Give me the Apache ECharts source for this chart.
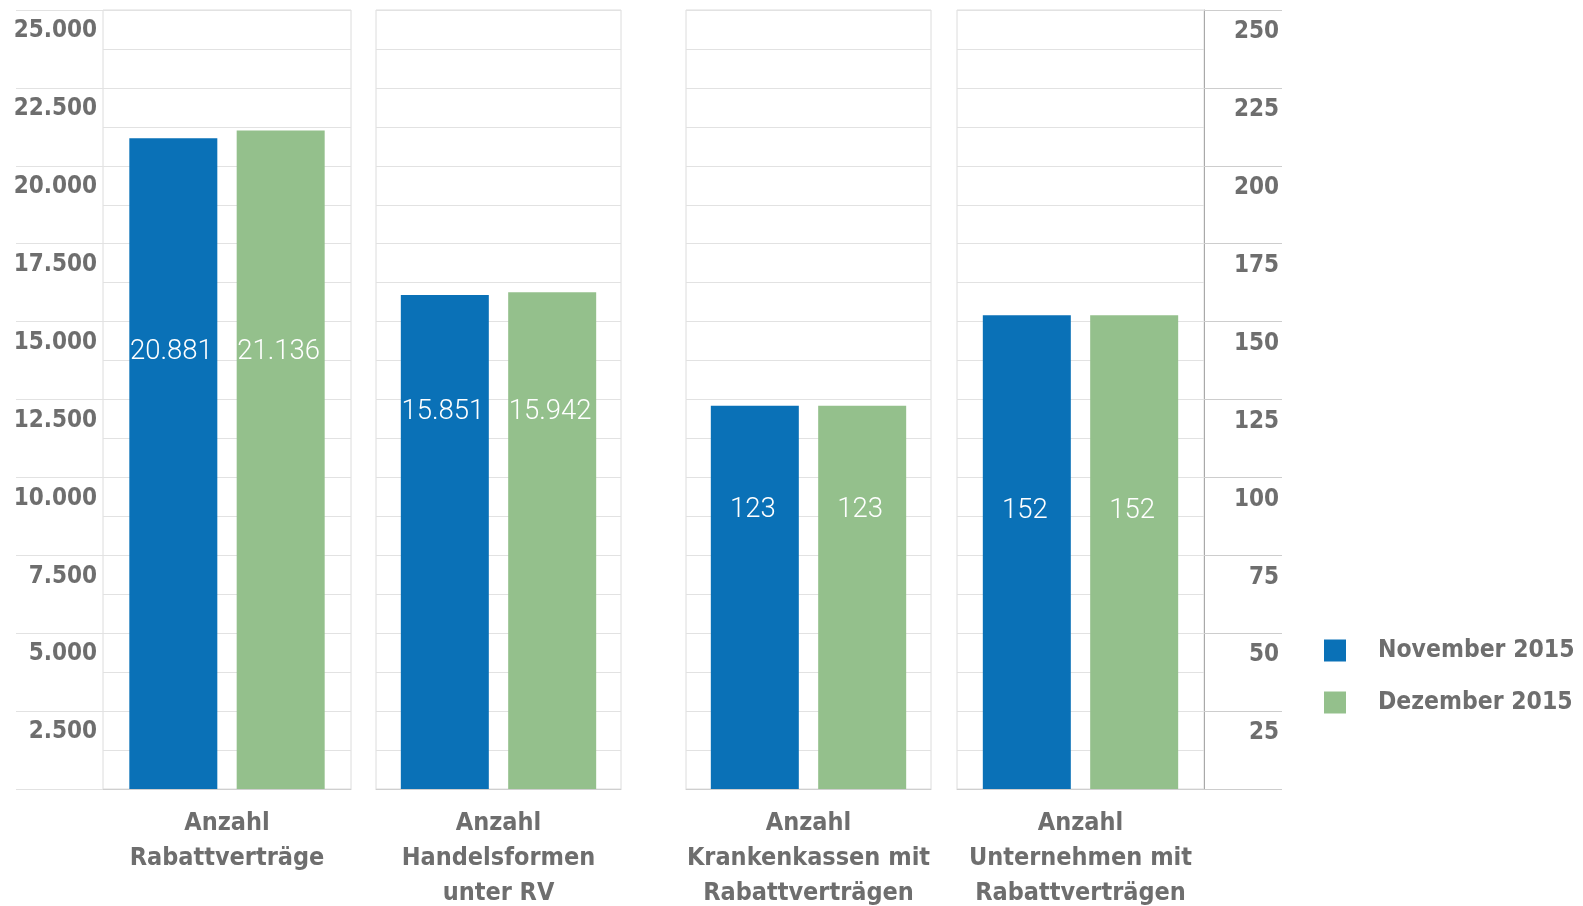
<!DOCTYPE html>
<html>
<head>
<meta charset="utf-8">
<style>
  html, body { margin: 0; padding: 0; background: #ffffff; }
  #chart { width: 1583px; height: 906px; }
</style>
<script src="https://cdn.jsdelivr.net/npm/echarts@6/dist/echarts.min.js"></script>
</head>
<body>
<div id="chart"></div>
<script>
// ---- data ----
const categories = [
  'Anzahl\nRabattverträge',
  'Anzahl\nHandelsformen\nunter RV',
  'Anzahl\nKrankenkassen mit\nRabattverträgen',
  'Anzahl\nUnternehmen mit\nRabattverträgen'
];
const seriesNames = ['November 2015', 'Dezember 2015'];
const november = [20881, 15851, 123, 152];
const dezember = [21136, 15942, 123, 152];
const leftTicks = { min: 0, max: 25000, interval: 2500 };
const rightTicks = { min: 0, max: 250, interval: 25 };

// ---- style ----
const BLUE = '#0a71b7';
const GREEN = '#94c08c';
const TEXT = '#6e6e6e';
const GRID_LINE = '#e2e2e2';
const AXIS_FONT = "'DejaVu Sans Condensed', 'DejaVu Sans', sans-serif";
const panels = [
  { left: 103, width: 248 },
  { left: 376, width: 245 },
  { left: 686, width: 245 },
  { left: 957, width: 247 }
];
const labelLift = [437, 377, 279, 278];
const TOP = 10, HEIGHT = 779;

function fmt(v) {
  return String(v).replace(/\B(?=(\d{3})+(?!\d))/g, '.');
}

const chart = echarts.init(document.getElementById('chart'), null, { renderer: 'canvas' });

const grid = panels.map(p => ({
  left: p.left, width: p.width, top: TOP, height: HEIGHT,
  show: true, borderColor: '#dcdcdc', borderWidth: 1,
  containLabel: false,
  outerBoundsMode: 'none'
}));

const xAxis = categories.map((c, i) => ({
  type: 'category',
  gridIndex: i,
  data: [c],
  axisLine: { show: true, lineStyle: { color: '#cfcfcf', width: 1 } },
  axisTick: { show: false },
  axisLabel: {
    margin: 17,
    color: TEXT,
    fontFamily: AXIS_FONT,
    fontWeight: 'bold',
    fontSize: 25,
    lineHeight: 35,
    align: 'center'
  }
}));

function yAxisFor(i) {
  const isLeft = i < 2;
  const t = isLeft ? leftTicks : rightTicks;
  const showLabels = (i === 0) || (i === 3);
  return {
    type: 'value',
    gridIndex: i,
    min: t.min, max: t.max, interval: t.interval,
    position: isLeft ? 'left' : 'right',
    axisLine: { show: i === 3, lineStyle: { color: '#a9a9a9', width: 1 } },
    axisTick: {
      show: showLabels,
      inside: false,
      length: i === 0 ? 87 : 78,
      lineStyle: { color: i === 0 ? GRID_LINE : '#cdcdcd', width: 1 }
    },
    minorTick: { show: false, splitNumber: 2 },
    splitLine: { show: true, lineStyle: { color: GRID_LINE, width: 1 } },
    minorSplitLine: { show: true, lineStyle: { color: GRID_LINE, width: 1 } },
    axisLabel: {
      show: showLabels,
      color: TEXT,
      fontFamily: AXIS_FONT,
      fontWeight: 'bold',
      fontSize: 24,
      lineHeight: 24,
      verticalAlign: 'top',
      align: 'right',
      padding: i === 0 ? [9, 0, 0, 0] : [10, 0, 0, 0],
      margin: i === 0 ? 6 : 75,
      formatter: v => (v === 0 ? '' : fmt(v))
    }
  };
}
const yAxis = panels.map((p, i) => yAxisFor(i));

const series = [];
categories.forEach((c, i) => {
  [november, dezember].forEach((arr, k) => {
    series.push({
      type: 'bar',
      name: seriesNames[k],
      xAxisIndex: i,
      yAxisIndex: i,
      data: [arr[i]],
      barWidth: 88,
      barGap: '22%',
      itemStyle: { color: k === 0 ? BLUE : GREEN },
      label: {
        show: true,
        position: ['50%', '100%'],
        offset: [-2, -labelLift[i]],
        align: 'center',
        verticalAlign: 'middle',
        color: '#ffffff',
        fontFamily: 'Roboto, sans-serif',
        fontWeight: 300,
        fontSize: 27.5,
        formatter: p => fmt(p.value)
      },
      silent: true,
      animation: false
    });
  });
});

chart.setOption({
  animation: false,
  backgroundColor: '#ffffff',
  legend: {
    data: seriesNames.map((n, k) => ({ name: n, itemStyle: { color: k === 0 ? BLUE : GREEN } })),
    orient: 'vertical',
    left: 1324,
    top: 638,
    padding: 0,
    icon: 'rect',
    itemWidth: 22,
    itemHeight: 22,
    itemGap: 27,
    selectedMode: false,
    textStyle: {
      color: TEXT,
      fontFamily: AXIS_FONT,
      fontWeight: 'bold',
      fontSize: 24.5,
      padding: [0, 0, 0, 27]
    }
  },
  grid, xAxis, yAxis, series
});
</script>
</body>
</html>
